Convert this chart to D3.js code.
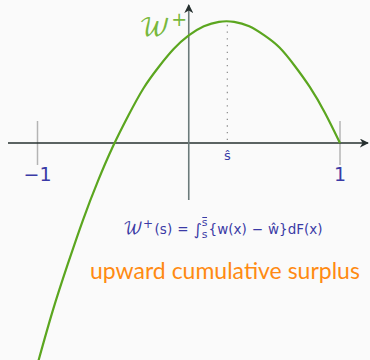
<!DOCTYPE html>
<html>
<head>
<meta charset="utf-8">
<script src="https://cdn.jsdelivr.net/npm/d3@7"></script>
<style>
  html, body { margin: 0; padding: 0; background: #fafafa; }
  svg { display: block; }
</style>
</head>
<body>
<svg id="chart" width="370" height="360"></svg>
<script>
// Upward cumulative surplus W+(s), sampled along s
const sValues = [-1.0, -0.9, -0.8, -0.7, -0.6, -0.5, -0.4, -0.3, -0.2, -0.1, 0.0,
                 0.1, 0.2, 0.3, 0.4, 0.5, 0.6, 0.7, 0.8, 0.9, 1.0];
const wValues = [-1.46, -1.11, -0.80, -0.51, -0.25, -0.02, 0.18, 0.36, 0.50, 0.62, 0.71,
                 0.77, 0.80, 0.80, 0.77, 0.71, 0.63, 0.51, 0.37, 0.20, 0.0];
const tickValues = [-1, 1];
const tickLabels = ["\u22121", "1"];
const sHat = 0.255;
const sHatLabel = "\u015D";

const svg = d3.select("#chart");
const x = d3.scaleLinear().domain([-1, 1]).range([37.5, 340]);
const y = d3.scaleLinear().domain([0, 0.8]).range([143, 21.8]);

const axisDark = "#26302f";
const axisGrey = "#6b7a7a";
const green = "#5ba61f";
const blue = "#3a3aa6";
const orange = "#ff8a12";
const sans = "'DejaVu Sans', sans-serif";
const script = "'DejaVu Math TeX Gyre', 'DejaVu Serif', serif";

// arrowheads
const defs = svg.append("defs");
defs.append("marker")
  .attr("id", "arrow").attr("viewBox", "0 0 10 10")
  .attr("refX", 9).attr("refY", 5)
  .attr("markerWidth", 9).attr("markerHeight", 9)
  .attr("markerUnits", "userSpaceOnUse")
  .attr("orient", "auto")
  .append("path").attr("d", "M0,0 L10,5 L0,10 L3,5 Z").attr("fill", axisDark);

// tick marks at s = -1 and s = 1
svg.selectAll("line.tick").data(tickValues).join("line")
  .attr("class", "tick")
  .attr("x1", d => x(d)).attr("x2", d => x(d))
  .attr("y1", y(0) - 22).attr("y2", y(0) + 22)
  .attr("stroke", "#b4b4b4").attr("stroke-width", 1.5);

// horizontal axis
svg.append("line")
  .attr("x1", 8).attr("x2", 368)
  .attr("y1", y(0)).attr("y2", y(0))
  .attr("stroke", axisDark).attr("stroke-width", 1.3)
  .attr("marker-end", "url(#arrow)");

// vertical axis
svg.append("line")
  .attr("x1", x(0)).attr("x2", x(0))
  .attr("y1", 200).attr("y2", 5)
  .attr("stroke", axisGrey).attr("stroke-width", 1.6)
  .attr("marker-end", "url(#arrow)");

// dotted line from the peak down to s-hat
svg.append("line")
  .attr("x1", x(sHat)).attr("x2", x(sHat))
  .attr("y1", y(0.78)).attr("y2", y(0) - 2)
  .attr("stroke", "#8a8a8a").attr("stroke-width", 1.2)
  .attr("stroke-dasharray", "1.3,5.4");

// the curve
const pts = sValues.map((s, i) => [s, wValues[i]]);
svg.append("path")
  .datum(pts)
  .attr("fill", "none")
  .attr("stroke", green).attr("stroke-width", 2.2)
  .attr("d", d3.line().x(d => x(d[0])).y(d => y(d[1])).curve(d3.curveNatural));

// tick labels
svg.selectAll("text.tl").data(tickValues).join("text")
  .attr("class", "tl")
  .attr("x", d => x(d)).attr("y", 181)
  .attr("text-anchor", "middle")
  .attr("fill", blue).attr("font-size", 19)
  .attr("font-family", sans)
  .text((d, i) => tickLabels[i]);

// s-hat label
svg.append("text")
  .attr("x", x(sHat)).attr("y", 160)
  .attr("text-anchor", "middle")
  .attr("fill", blue).attr("font-size", 13)
  .attr("font-family", sans)
  .text(sHatLabel);

// W+ label
const wl = svg.append("text").attr("x", 139).attr("y", 35).attr("fill", "#78b83c");
wl.append("tspan").attr("font-size", 25).attr("font-family", script).text("\uD835\uDCB2");
wl.append("tspan").attr("font-size", 19).attr("font-family", sans).attr("dx", 1).attr("dy", -9).text("+");

// formula, laid out piece by piece
const fy = 234;
const fs = 13.5;
const fg = svg.append("g").attr("fill", blue).attr("font-family", sans);
let cx = 123;
function piece(txt, size, dy, fam) {
  const t = fg.append("text").attr("x", cx).attr("y", fy + dy)
    .attr("font-size", size).text(txt);
  if (fam) t.attr("font-family", fam);
  cx += t.node().getComputedTextLength();
  return t;
}
piece("\uD835\uDCB2", 16, 0, script);
piece("+", 12, -6);
cx += 1.5;
piece("(s)", fs, 0);
cx += 5;
piece("=", fs, 0);
cx += 5;
piece("\u222B", 16, 1);
// integral limits: lower s, upper s-bar
const limX = cx;
piece("s", 11, 4);
const loW = cx - limX;
cx = limX;
piece("s", 11, -8);
fg.append("line")
  .attr("x1", limX + 0.5).attr("x2", cx - 0.5)
  .attr("y1", fy - 16.5).attr("y2", fy - 16.5)
  .attr("stroke", blue).attr("stroke-width", 1);
cx = limX + Math.max(loW, cx - limX) + 1;
piece("{w(x)", fs, 0);
cx += 5;
piece("\u2212", fs, 0);
cx += 5;
piece("\u0175}dF(x)", fs, 0);

// caption
svg.append("text")
  .attr("x", 90).attr("y", 279)
  .attr("fill", orange).attr("font-size", 23)
  .attr("font-family", "Lato, 'Open Sans', sans-serif")
  .text("upward cumulative surplus");
</script>
</body>
</html>
